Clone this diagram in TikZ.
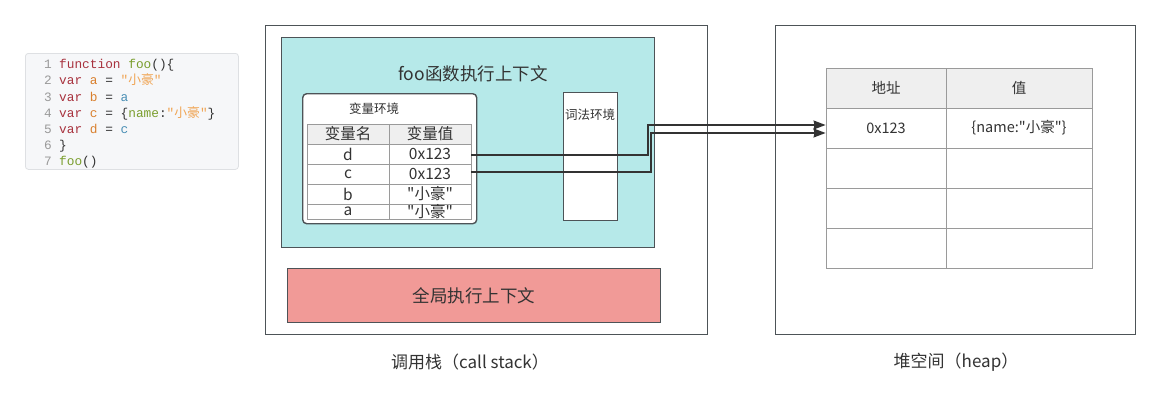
\documentclass[tikz,border=0pt]{standalone}
\usepackage{fontspec}
\setmainfont{Noto Sans CJK SC}
\newfontfamily\cjk{Noto Sans CJK SC}
\newfontfamily\uifont{Noto Sans CJK SC}
\setmonofont{Liberation Mono}
\usetikzlibrary{arrows.meta}
\definecolor{edge}{HTML}{4D5357}
\definecolor{tealfill}{HTML}{B6E9E9}
\definecolor{salmon}{HTML}{F19A97}
\definecolor{hdr}{HTML}{EFEFEF}
\definecolor{tline}{HTML}{9A9A9A}
\definecolor{codebg}{HTML}{F6F7F9}
\definecolor{codeborder}{HTML}{DEE0E3}
\definecolor{kw}{HTML}{A8323E}
\definecolor{vname}{HTML}{D9802E}
\definecolor{str}{HTML}{F0A555}
\definecolor{ref}{HTML}{4A8FB5}
\definecolor{grn}{HTML}{7A9E2E}
\definecolor{lnum}{HTML}{9A9A9A}
\definecolor{txt}{HTML}{333333}
\tikzset{
  box/.style={draw=edge, line width=1.4pt, anchor=north west, inner sep=0pt},
  cell/.style={draw=tline, line width=0.9pt, fill=white, inner sep=0pt, text=txt},
  vcell/.style={cell, minimum width=82, font=\uifont\fontsize{15.5}{15.5}\selectfont},
  hcell/.style={cell, minimum height=40, font=\uifont\fontsize{14.5}{14.5}\selectfont},
  codeline/.style={anchor=base west, inner sep=0pt, font=\ttfamily\fontsize{12.8}{14}\selectfont},
  lno/.style={anchor=base east, inner sep=0pt, text=lnum, font=\ttfamily\fontsize{12.8}{14}\selectfont},
  conn/.style={draw=txt, line width=1.4pt},
  lbl/.style={text=txt, inner sep=0pt, font=\uifont\fontsize{17}{17}\selectfont}
}
\begin{document}
\begin{tikzpicture}[x=1pt,y=-1pt]
\useasboundingbox[fill=white] (0,0) rectangle (1160,407);

% code panel
\node[draw=codeborder, fill=codebg, rounded corners=3pt, line width=0.8pt, anchor=north west,
      minimum width=213, minimum height=116, inner sep=0pt] (code) at (25,53) {};
\node[lno] (n1) at (52,68)  {1};
\node[lno] (n2) at (52,84)  {2};
\node[lno] (n3) at (52,101) {3};
\node[lno] (n4) at (52,117) {4};
\node[lno] (n5) at (52,133) {5};
\node[lno] (n6) at (52,149) {6};
\node[lno] (n7) at (52,165) {7};
\node[codeline] (c1) at (59,68)  {\textcolor{kw}{function} \textcolor{grn}{foo}\textcolor{txt}{()\{}};
\node[codeline] (c2) at (59,84)  {\textcolor{kw}{var} \textcolor{vname}{a} \textcolor{txt}{=} \textcolor{str}{"{\cjk 小豪}"}};
\node[codeline] (c3) at (59,101) {\textcolor{kw}{var} \textcolor{vname}{b} \textcolor{txt}{=} \textcolor{ref}{a}};
\node[codeline] (c4) at (59,117) {\textcolor{kw}{var} \textcolor{vname}{c} \textcolor{txt}{= \{}\textcolor{grn}{name}\textcolor{txt}{:}\textcolor{str}{"{\cjk 小豪}"}\textcolor{txt}{\}}};
\node[codeline] (c5) at (59,133) {\textcolor{kw}{var} \textcolor{vname}{d} \textcolor{txt}{=} \textcolor{ref}{c}};
\node[codeline] (c6) at (59,149) {\textcolor{txt}{\}}};
\node[codeline] (c7) at (59,165) {\textcolor{grn}{foo}\textcolor{txt}{()}};

% call stack
\node[box, minimum width=442, minimum height=309] (stack) at (265,25) {};
\node[box, fill=tealfill, minimum width=373, minimum height=210] (fooctx) at (281,37) {};
\node[text=txt, inner sep=0pt, font=\uifont\fontsize{17.5}{17.5}\selectfont] (footitle) at (473,74) {foo函数执行上下文};
\node[box, fill=white, rounded corners=4pt, minimum width=174, minimum height=130] (varenv) at (302,93) {};
\node[text=txt, inner sep=0pt, font=\uifont\fontsize{12.5}{12.5}\selectfont] (vartitle) at (374,109) {变量环境};
\node[box, fill=white, minimum width=54, minimum height=128] (lexenv) at (563,92) {};
\node[text=txt, inner sep=0pt, font=\uifont\fontsize{12.5}{12.5}\selectfont] (lextitle) at (590,115) {词法环境};

% variable table
\node[vcell, fill=hdr, minimum height=20] (vh1) at (348,134) {变量名};
\node[vcell, fill=hdr, minimum height=20] (vh2) at (430,134) {变量值};
\node[vcell, minimum height=20] (vd1) at (348,154) {d};
\node[vcell, minimum height=20] (vd2) at (430,154) {0x123};
\node[vcell, minimum height=20] (vc1) at (348,174) {c};
\node[vcell, minimum height=20] (vc2) at (430,174) {0x123};
\node[vcell, minimum height=20] (vb1) at (348,194) {b};
\node[vcell, minimum height=20] (vb2) at (430,194) {"小豪"};
\node[vcell, minimum height=15] (va1) at (348,211.5) {a};
\node[vcell, minimum height=15] (va2) at (430,211.5) {"小豪"};

% global context
\node[box, fill=salmon, minimum width=373, minimum height=54] (global) at (287,268) {};
\node[text=txt, inner sep=0pt, font=\uifont\fontsize{17.5}{17.5}\selectfont] (globaltitle) at (global.center) {全局执行上下文};

% heap
\node[box, minimum width=360, minimum height=309] (heap) at (775,25) {};
\node[hcell, fill=hdr, minimum width=120] (hh1) at (886,88) {地址};
\node[hcell, fill=hdr, minimum width=146] (hh2) at (1019,88) {值};
\node[hcell, minimum width=120] (hp1) at (886,128) {0x123};
\node[hcell, minimum width=146] (hq1) at (1019,128) {\{name:"小豪"\}};
\node[hcell, minimum width=120] (hp2) at (886,168) {};
\node[hcell, minimum width=146] (hq2) at (1019,168) {};
\node[hcell, minimum width=120] (hp3) at (886,208) {};
\node[hcell, minimum width=146] (hq3) at (1019,208) {};
\node[hcell, minimum width=120] (hp4) at (886,248) {};
\node[hcell, minimum width=146] (hq4) at (1019,248) {};

% connectors
\coordinate (j1) at (648,125);
\coordinate (j2) at (651,133);
\coordinate (dout) at (471,155);
\coordinate (cout) at (471,172);
\draw[conn, -{Stealth[length=12pt,width=9pt,inset=1pt]}] (vd2.east |- dout) -| (j1) -- (hp1.west |- j1);
\draw[conn, -{Stealth[length=12pt,width=9pt,inset=1pt]}] (vc2.east |- cout) -| (j2) -- (hp1.west |- j2);

% labels
\node[lbl] (stacklbl) at (470,362) {调用栈（call stack）};
\node[lbl] (heaplbl) at (956,362) {堆空间（heap）};
\end{tikzpicture}
\end{document}
